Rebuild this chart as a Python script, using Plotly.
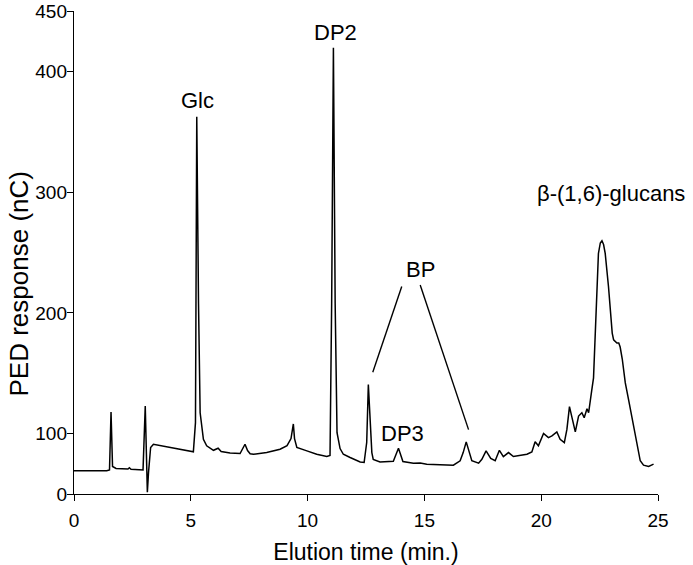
import plotly.graph_objects as go

# Elution time (min) and PED response (nC, plotted on a linear scale whose
# bottom tick is labelled "0")
time_min = [0.00, 1.40, 1.52, 1.585, 1.65, 1.80, 2.31, 2.37, 2.44, 2.955,
            3.05, 3.10, 3.14, 3.19, 3.28, 3.40, 3.90, 4.54, 5.11, 5.20,
            5.255, 5.33, 5.40, 5.54, 5.68, 5.97, 6.17, 6.30, 6.68, 7.11,
            7.24, 7.32, 7.43, 7.54, 7.68, 8.25, 8.82, 9.12, 9.29, 9.39,
            9.44, 9.54, 9.97, 10.39, 10.82, 10.96, 11.03, 11.105, 11.18, 11.26,
            11.39, 11.53, 11.82, 12.11, 12.25, 12.42, 12.53, 12.60, 12.68, 12.75,
            12.81, 13.10, 13.67, 13.79, 13.89, 13.98, 14.08, 14.53, 14.82, 15.10,
            15.67, 16.24, 16.53, 16.66, 16.79, 16.92, 17.03, 17.32, 17.46, 17.64,
            17.84, 18.03, 18.21, 18.38, 18.60, 18.81, 19.10, 19.39, 19.60, 19.74,
            19.88, 20.10, 20.31, 20.46, 20.67, 20.81, 20.99, 21.10, 21.21, 21.38,
            21.46, 21.60, 21.74, 21.84, 21.96, 22.03, 22.10, 22.16, 22.24, 22.29,
            22.36, 22.45, 22.53, 22.60, 22.67, 22.74, 22.88, 22.985, 23.04, 23.10,
            23.17, 23.24, 23.32, 23.38, 23.47, 23.60, 23.75, 23.88, 23.98, 24.10,
            24.24, 24.38, 24.60, 24.81]
response_nC = [69.2, 69.2, 69.9, 117.9, 72.8, 71.1, 70.7, 71.7, 70.5, 69.9,
               122.8, 76.1, 51.4, 67.8, 88.5, 91.2, 89.3, 86.8, 84.9, 109.1,
               362.4, 208.0, 117.3, 95.3, 89.9, 86.2, 87.9, 85.2, 83.9, 83.5,
               87.6, 91.2, 86.0, 83.3, 82.9, 84.3, 87.1, 90.1, 95.9, 108.0,
               95.9, 88.5, 85.7, 82.9, 81.0, 81.9, 208.0, 419.6, 208.0, 100.8,
               87.6, 82.9, 80.2, 77.7, 76.5, 76.1, 92.6, 140.6, 109.1, 84.3,
               78.6, 76.5, 77.2, 82.7, 87.9, 82.7, 76.9, 75.5, 75.7, 74.7,
               74.2, 73.9, 77.5, 84.3, 93.2, 84.3, 77.5, 75.5, 78.8, 85.7,
               79.4, 77.5, 86.2, 81.0, 84.3, 81.0, 82.1, 82.9, 84.9, 93.2,
               89.9, 100.2, 96.7, 98.1, 101.4, 95.3, 92.6, 103.5, 122.3, 106.3,
               101.4, 114.6, 117.3, 113.2, 120.6, 117.3, 129.7, 135.4, 146.2, 170.9,
               216.2, 249.2, 257.9, 259.7, 256.6, 249.2, 221.8, 194.2, 183.3, 177.7,
               176.3, 175.0, 175.0, 171.7, 161.8, 142.0, 127.2, 114.6, 102.5, 92.6,
               77.5, 73.9, 72.8, 74.7]

x_ticks = [0, 5, 10, 15, 20, 25]
y_tick_vals = [50, 100, 200, 300, 400, 450]
y_tick_text = ["0", "100", "200", "300", "400", "450"]

peak_labels = ["Glc", "DP2", "BP", "DP3", "β-(1,6)-glucans"]
peak_label_x = [5.27, 11.19, 14.82, 14.05, 22.98]
peak_label_y = [376, 432, 236, 100.4, 298.7]

FONT = "Liberation Sans, Arial, sans-serif"

fig = go.Figure()
fig.add_trace(go.Scatter(x=time_min, y=response_nC, mode="lines",
                         line=dict(color="black", width=1.5),
                         hoverinfo="x+y", showlegend=False))

for txt, lx, ly in zip(peak_labels, peak_label_x, peak_label_y):
    fig.add_annotation(x=lx, y=ly, xref="x", yref="y", text=txt,
                       showarrow=False, font=dict(size=22, color="black", family=FONT))

# leader lines for BP
fig.add_shape(type="line", xref="x", yref="y", x0=14.03, y0=221.8, x1=12.79, y1=150.9,
              line=dict(color="black", width=1.4))
fig.add_shape(type="line", xref="x", yref="y", x0=14.82, y0=223.1, x1=16.89, y1=103.3,
              line=dict(color="black", width=1.4))

fig.add_annotation(x=-0.094, y=0.434, xref="paper", yref="paper", xanchor="center", yanchor="middle",
                   text="PED response (nC)", textangle=-90, showarrow=False,
                   font=dict(size=26, color="black", family=FONT))

fig.update_layout(
    width=693, height=565,
    margin=dict(l=74, r=35, t=11, b=71),
    paper_bgcolor="white", plot_bgcolor="white",
    font=dict(family=FONT, color="black"),
    xaxis=dict(range=[0, 25], tickvals=x_ticks, showgrid=False, zeroline=False,
               showline=True, linecolor="black", linewidth=1.4, automargin=False,
               ticks="outside", ticklen=6, tickwidth=1.4, tickcolor="black",
               ticklabelstandoff=3, ticklabeloverflow="allow",
               tickfont=dict(size=19, family=FONT),
               title=dict(text="Elution time (min.)", font=dict(size=23, family=FONT), standoff=15)),
    yaxis=dict(range=[50, 450], tickvals=y_tick_vals, ticktext=y_tick_text,
               showgrid=False, zeroline=False, automargin=False,
               showline=True, linecolor="black", linewidth=1.4,
               ticks="outside", ticklen=6, tickwidth=1.4, tickcolor="black",
               ticklabelstandoff=-4, ticklabeloverflow="allow",
               tickfont=dict(size=19, family=FONT)),
)

fig.write_html("out.html", config={"displayModeBar": False},
               post_script="document.body.style.margin='0';")
